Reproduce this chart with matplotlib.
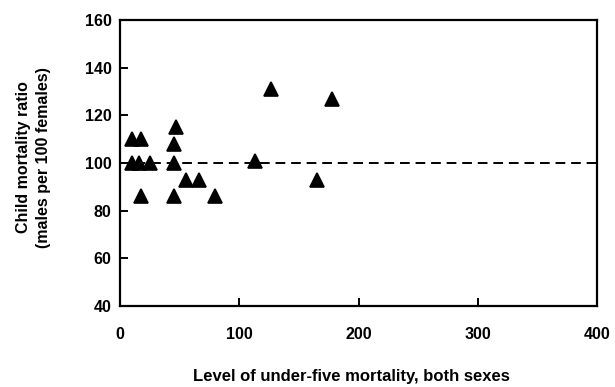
import matplotlib
matplotlib.use("Agg")
import matplotlib.pyplot as plt

# Under-five mortality level (both sexes) and sex ratio of child mortality
u5_level = [10, 18, 10, 16, 25, 18, 47, 45, 45, 45, 55, 66, 80, 113, 127, 165, 178]
ratio = [110, 110, 100, 100, 100, 86, 115, 108, 100, 86, 93, 93, 86, 101, 131, 93, 127]

x_ticks = [0, 100, 200, 300, 400]
y_ticks = [40, 60, 80, 100, 120, 140, 160]
parity = 100

plt.rcParams["font.family"] = ["Liberation Sans", "DejaVu Sans"]
plt.rcParams["font.weight"] = "bold"

fig = plt.figure(figsize=(6.15, 3.87), dpi=100)
ax = fig.add_axes([0.195, 0.209, 0.776, 0.739])

ax.plot([x_ticks[0], x_ticks[-1]], [parity, parity], color="black",
        linestyle=(0, (5, 3)), linewidth=1.4, zorder=1)
ax.plot(u5_level, ratio, linestyle="none", marker="^", markersize=9.5,
        color="black", markeredgewidth=1.2, zorder=2)

ax.set_xlim(x_ticks[0], x_ticks[-1])
ax.set_ylim(y_ticks[0], y_ticks[-1])
ax.set_xticks(x_ticks)
ax.set_yticks(y_ticks)
ax.tick_params(direction="in", length=6, width=1.4, labelsize=11.5, pad=6)
ax.tick_params(axis="x", pad=15)
for lab in ax.get_xticklabels() + ax.get_yticklabels():
    lab.set_fontweight("bold")
for s in ax.spines.values():
    s.set_linewidth(1.6)

fig.text(0.572, 0.026, "Level of under-five mortality, both sexes",
         fontsize=12, fontweight="bold", ha="center", va="center")
fig.text(0.0545, 0.594, "Child mortality ratio\n(males per 100 females)",
         fontsize=11.5, fontweight="bold", rotation=90, ha="center",
         va="center", linespacing=1.35, multialignment="center")

fig.savefig("out.png", dpi=100)
